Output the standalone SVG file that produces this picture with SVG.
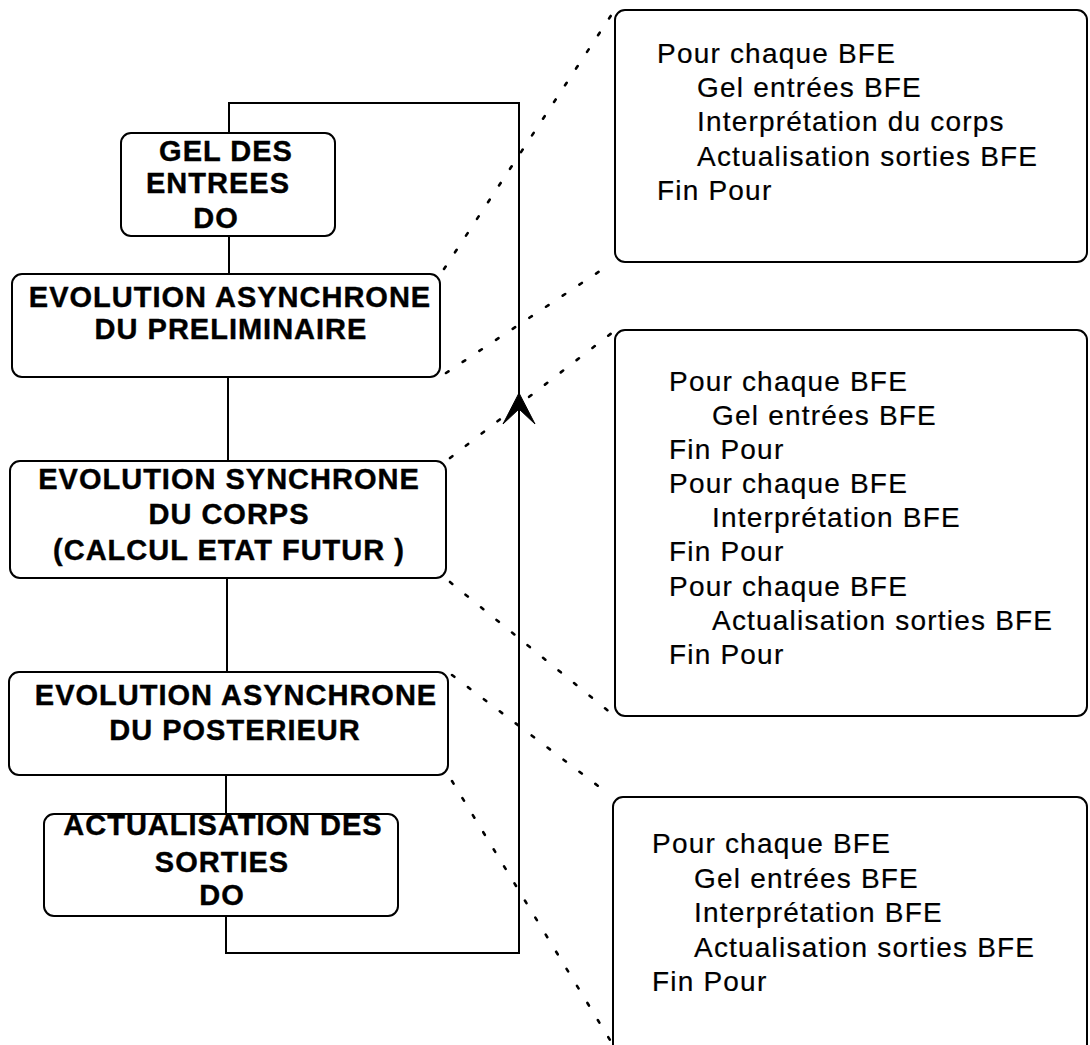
<svg xmlns="http://www.w3.org/2000/svg" width="1090" height="1045" viewBox="0 0 1090 1045">
<style>
.box{fill:#fff;stroke:#000;stroke-width:2}
.ln{fill:none;stroke:#000;stroke-width:2}
.dot{fill:none;stroke:#000;stroke-width:2.6;stroke-dasharray:3 17;stroke-linecap:round}
.bt{font-family:"Liberation Sans",Arial,Helvetica,sans-serif;font-weight:bold;font-size:29px;letter-spacing:1px;text-anchor:middle;fill:#000;stroke:#000;stroke-width:0.4}
.rt{font-family:"Liberation Sans",Arial,Helvetica,sans-serif;font-size:28px;letter-spacing:1.2px;fill:#000;stroke:#000;stroke-width:0.2}
</style>
<rect width="1090" height="1045" fill="#fff"/>
<g id="connectors">
<path class="ln" d="M229,133 V103 H519 V953 H226 V916"/>
<line class="ln" x1="229" y1="236" x2="229" y2="274"/>
<line class="ln" x1="228" y1="377" x2="228" y2="461"/>
<line class="ln" x1="227" y1="578" x2="227" y2="672"/>
<line class="ln" x1="226" y1="775" x2="226" y2="814"/>
<path d="M519,393 L503,424 L519,409 L535,424 Z" fill="#000" stroke="#000" stroke-width="1" stroke-linejoin="round"/>
<line class="dot" x1="444" y1="269" x2="612" y2="14"/>
<line class="dot" x1="446" y1="373" x2="612" y2="263"/>
<line class="dot" x1="450" y1="458" x2="613" y2="332"/>
<line class="dot" x1="450" y1="582" x2="612" y2="714"/>
<line class="dot" x1="452" y1="675" x2="610" y2="795"/>
<line class="dot" x1="452" y1="781" x2="610" y2="1040"/>
</g>
<g id="node-gel">
<rect class="box" x="121" y="133" width="214" height="103" rx="10"/>
<text class="bt" x="226" y="161">GEL DES</text>
<text class="bt" x="218" y="193">ENTREES</text>
<text class="bt" x="216" y="228">DO</text>
</g>
<g id="node-preliminaire">
<rect class="box" x="12" y="274" width="428" height="103" rx="10"/>
<text class="bt" x="230" y="307">EVOLUTION ASYNCHRONE</text>
<text class="bt" x="231" y="339">DU PRELIMINAIRE</text>
</g>
<g id="node-synchrone">
<rect class="box" x="10" y="461" width="436" height="117" rx="10"/>
<text class="bt" x="229" y="489">EVOLUTION SYNCHRONE</text>
<text class="bt" x="229" y="524">DU CORPS</text>
<text class="bt" x="229" y="560">(CALCUL ETAT FUTUR )</text>
</g>
<g id="node-posterieur">
<rect class="box" x="9" y="672" width="439" height="103" rx="10"/>
<text class="bt" x="236" y="705">EVOLUTION ASYNCHRONE</text>
<text class="bt" x="235" y="740">DU POSTERIEUR</text>
</g>
<g id="node-actualisation">
<rect class="box" x="44" y="814" width="354" height="102" rx="10"/>
<text class="bt" x="223" y="835">ACTUALISATION DES</text>
<text class="bt" x="222" y="872">SORTIES</text>
<text class="bt" x="222" y="905">DO</text>
</g>
<g id="note-preliminaire">
<rect class="box" x="615" y="10" width="472" height="252" rx="10"/>
<text class="rt" x="657" y="63">Pour chaque BFE</text>
<text class="rt" x="697" y="97">Gel entrées BFE</text>
<text class="rt" x="697" y="131">Interprétation du corps</text>
<text class="rt" x="697" y="166">Actualisation sorties BFE</text>
<text class="rt" x="657" y="200">Fin Pour</text>
</g>
<g id="note-synchrone">
<rect class="box" x="615" y="330" width="472" height="386" rx="10"/>
<text class="rt" x="669" y="391">Pour chaque BFE</text>
<text class="rt" x="712" y="425">Gel entrées BFE</text>
<text class="rt" x="669" y="459">Fin Pour</text>
<text class="rt" x="669" y="493">Pour chaque BFE</text>
<text class="rt" x="712" y="527">Interprétation BFE</text>
<text class="rt" x="669" y="561">Fin Pour</text>
<text class="rt" x="669" y="596">Pour chaque BFE</text>
<text class="rt" x="712" y="630">Actualisation sorties BFE</text>
<text class="rt" x="669" y="664">Fin Pour</text>
</g>
<g id="note-posterieur">
<rect class="box" x="613" y="797" width="474" height="270" rx="10"/>
<text class="rt" x="652" y="853">Pour chaque BFE</text>
<text class="rt" x="694" y="888">Gel entrées BFE</text>
<text class="rt" x="694" y="922">Interprétation BFE</text>
<text class="rt" x="694" y="957">Actualisation sorties BFE</text>
<text class="rt" x="652" y="991">Fin Pour</text>
</g>
</svg>
